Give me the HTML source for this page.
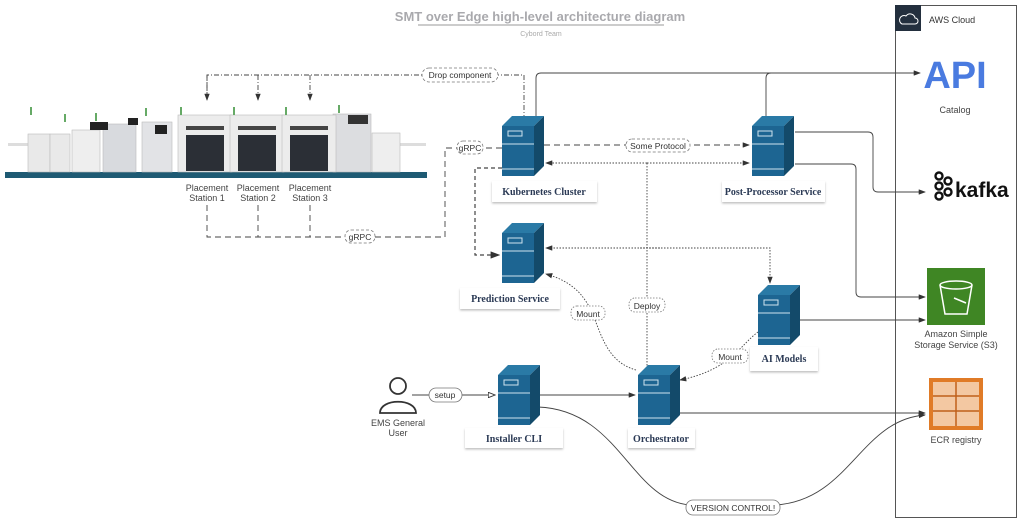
<!DOCTYPE html>
<html><head><meta charset="utf-8"><style>
html,body{margin:0;padding:0;background:#fff;width:1024px;height:524px;overflow:hidden}
svg{display:block}
text{font-family:"Liberation Sans",sans-serif}
.lbl{font-family:"Liberation Serif",serif;font-weight:bold;font-size:10px;fill:#2b3a55;text-anchor:middle}
.sm{font-size:9px;fill:#444;text-anchor:middle}
</style></head><body>
<svg width="1024" height="524" viewBox="0 0 1024 524" xmlns="http://www.w3.org/2000/svg">
<defs>
<marker id="a" markerWidth="8" markerHeight="6" refX="7" refY="3" orient="auto"><path d="M0,0 L8,3 L0,6z" fill="#333"/></marker>
<marker id="o" markerWidth="9" markerHeight="7" refX="8" refY="3.5" orient="auto"><path d="M0.5,0.5 L8,3.5 L0.5,6.5z" fill="#fff" stroke="#333"/></marker>
<g id="srv">
<path d="M0,10 L10,0 L42,0 L32,10z" fill="#2a7aa6"/>
<path d="M32,10 L42,0 L42,50 L32,60z" fill="#134a6a"/>
<rect x="0" y="10" width="32" height="50" fill="#1d6592"/>
<line x1="0" y1="28" x2="32" y2="28" stroke="#cfe3ef" stroke-width="1"/>
<line x1="0" y1="53" x2="32" y2="53" stroke="#cfe3ef" stroke-width="1"/>
<rect x="6" y="15" width="14" height="5" fill="none" stroke="#cfe3ef" stroke-width="1"/>
</g>
<filter id="sh"><feDropShadow dx="0" dy="1.5" stdDeviation="1" flood-opacity="0.25"/></filter>
</defs>

<text x="540" y="21" text-anchor="middle" font-size="13" font-weight="bold" fill="#a9a9ad">SMT over Edge high-level architecture diagram</text>
<line x1="418" y1="25" x2="664" y2="25" stroke="#999" stroke-width="1"/>
<text x="541" y="36" text-anchor="middle" font-size="7" fill="#aaa">Cybord Team</text>

<rect x="895.5" y="5.5" width="121" height="512" fill="none" stroke="#555" stroke-width="1"/>
<rect x="895" y="5" width="26" height="26" fill="#232f3e"/>
<path d="M902,24 h13 a3,3 0 0 0 0,-6 a5,5 0 0 0 -9,-2 a4,4 0 0 0 -4,8z" fill="none" stroke="#fff" stroke-width="1"/>
<text x="929" y="23" font-size="9" fill="#333">AWS Cloud</text>
<text x="955" y="88" text-anchor="middle" font-family="Liberation Mono" font-weight="bold" font-size="38" fill="#4a7be0">API</text>
<text x="955" y="113" class="sm" font-size="8">Catalog</text>
<g stroke="#111" stroke-width="2.4" fill="none">
<circle cx="939" cy="176" r="3.5"/><circle cx="939" cy="186" r="3.5"/><circle cx="939" cy="196" r="3.5"/>
<circle cx="948" cy="181" r="3.5"/><circle cx="948" cy="192" r="3.5"/>
</g>
<text x="955" y="197" font-size="21" font-weight="bold" fill="#111">kafka</text>
<rect x="927" y="268" width="58" height="57" fill="#3f8624"/>
<path d="M940,285 L945,314 H967 L972,285" fill="none" stroke="#fff" stroke-width="1.5"/>
<ellipse cx="956" cy="285" rx="16" ry="4" fill="none" stroke="#fff" stroke-width="1.5"/>
<path d="M954,298 L966,303" stroke="#fff" stroke-width="1.5"/>
<text x="956" y="337" class="sm" font-size="8.5">Amazon Simple</text>
<text x="956" y="348" class="sm" font-size="8.5">Storage Service (S3)</text>
<rect x="929" y="378" width="54" height="52" fill="#e07b27"/>
<rect x="933" y="382" width="46" height="44" fill="#f3c8a2"/>
<g stroke="#c0601a" stroke-width="1.5"><line x1="956" y1="382" x2="956" y2="426"/><line x1="933" y1="396" x2="979" y2="396"/><line x1="933" y1="411" x2="979" y2="411"/></g>
<text x="956" y="443" class="sm" font-size="8.5">ECR registry</text>

<rect x="5" y="172" width="422" height="6" fill="#1e5a73"/>
<rect x="8" y="143" width="20" height="3" fill="#ddd"/>
<rect x="400" y="143" width="26" height="3" fill="#ddd"/>
<g stroke="#bbb" stroke-width="0.6">
<rect x="28" y="134" width="22" height="38" fill="#e9e9e9"/>
<rect x="50" y="134" width="20" height="38" fill="#e9e9e9"/>
<rect x="72" y="130" width="28" height="42" fill="#eee"/>
<rect x="103" y="124" width="33" height="48" fill="#d8dade"/>
<rect x="142" y="122" width="30" height="50" fill="#e2e3e6"/>
<rect x="333" y="114" width="38" height="58" fill="#dcdde0"/>
<rect x="372" y="133" width="28" height="39" fill="#eee"/>
</g>
<rect x="90" y="122" width="18" height="8" fill="#222"/><rect x="128" y="118" width="10" height="7" fill="#222"/>
<rect x="155" y="125" width="12" height="9" fill="#222"/><rect x="348" y="115" width="20" height="9" fill="#333"/>
<g>
<rect x="178" y="115" width="54" height="57" fill="#ececec" stroke="#bbb" stroke-width="0.6"/><rect x="186" y="135" width="38" height="36" fill="#2b2f36"/>
<rect x="230" y="115" width="54" height="57" fill="#ececec" stroke="#bbb" stroke-width="0.6"/><rect x="238" y="135" width="38" height="36" fill="#2b2f36"/>
<rect x="282" y="115" width="54" height="57" fill="#ececec" stroke="#bbb" stroke-width="0.6"/><rect x="290" y="135" width="38" height="36" fill="#2b2f36"/>
<rect x="186" y="126" width="38" height="4" fill="#444"/><rect x="238" y="126" width="38" height="4" fill="#444"/><rect x="290" y="126" width="38" height="4" fill="#444"/>
</g>
<g fill="#6a6" ><rect x="30" y="107" width="2" height="8"/><rect x="64" y="114" width="2" height="8"/><rect x="95" y="113" width="2" height="8"/><rect x="145" y="108" width="2" height="8"/><rect x="180" y="107" width="2" height="8"/><rect x="233" y="107" width="2" height="8"/><rect x="285" y="107" width="2" height="8"/><rect x="338" y="105" width="2" height="8"/></g>
<g class="sm" font-size="8.5"><text x="207" y="191">Placement</text><text x="207" y="201">Station 1</text><text x="258" y="191">Placement</text><text x="258" y="201">Station 2</text><text x="310" y="191">Placement</text><text x="310" y="201">Station 3</text></g>

<g fill="none" stroke="#444" stroke-width="0.9">
<path d="M207,98 V75 H524 V117" stroke-dasharray="5,2,1,2"/>
<path d="M207,75 V100" stroke-dasharray="5,2,1,2" marker-end="url(#a)"/>
<path d="M258,75 V100" stroke-dasharray="5,2,1,2" marker-end="url(#a)"/>
<path d="M310,75 V100" stroke-dasharray="5,2,1,2" marker-end="url(#a)"/>
<path d="M207,205 V237 H445 V148 H502" stroke-dasharray="6,4"/>
<path d="M258,205 V237" stroke-dasharray="6,4"/><path d="M310,205 V237" stroke-dasharray="6,4"/>
<path d="M502,168 H475 V255 H499" stroke-dasharray="4,3" stroke-width="1.2" marker-end="url(#a)"/>
<path d="M536,117 V78 Q536,73 541,73 H920" marker-end="url(#a)"/>
<path d="M766,117 V78 Q766,73 771,73"/>
<path d="M544,145 H749" stroke-dasharray="6,4" marker-end="url(#a)"/>
<path d="M647,163 H749" stroke-dasharray="1.5,1.5" marker-end="url(#a)"/>
<path d="M647,163 H546" stroke-dasharray="1.5,1.5" marker-end="url(#a)"/>
<path d="M647,163 V366" stroke-dasharray="1.5,1.5"/>
<path d="M660,248 H546" stroke-dasharray="1.5,1.5" marker-end="url(#a)"/>
<path d="M640,248 H770 V283" stroke-dasharray="1.5,1.5" marker-end="url(#a)"/>
<path d="M636,370 C600,360 600,320 585,300 C575,285 560,278 546,274" stroke-dasharray="1.5,1.5" marker-end="url(#a)"/>
<path d="M758,332 C740,345 730,370 680,380" stroke-dasharray="1.5,1.5" marker-end="url(#a)"/>
<path d="M795,132 H868 Q873,132 873,137 V187 Q873,192 878,192 H925" marker-end="url(#a)"/>
<path d="M795,164 H851 Q856,164 856,169 V292 Q856,297 861,297 H925" marker-end="url(#a)"/>
<path d="M800,320 H925" marker-end="url(#a)"/>
<path d="M412,395 H495" marker-end="url(#o)"/>
<path d="M538,395 H635" marker-end="url(#a)"/>
<path d="M678,413 H925" marker-end="url(#a)"/>
<path d="M538,407 C620,410 630,500 690,505"/>
<path d="M776,505 C850,500 860,420 925,415" marker-end="url(#a)"/>
</g>
<g font-size="8.5" fill="#333" text-anchor="middle">
<rect x="422" y="68" width="76" height="14" rx="7" fill="#fff" stroke="#777" stroke-dasharray="3,2" stroke-width="0.8"/><text x="460" y="78">Drop component</text>
<rect x="457" y="141" width="26" height="13" rx="6" fill="#fff" stroke="#777" stroke-dasharray="3,2" stroke-width="0.8"/><text x="470" y="151">gRPC</text>
<rect x="345" y="230" width="30" height="13" rx="6" fill="#fff" stroke="#777" stroke-dasharray="3,2" stroke-width="0.8"/><text x="360" y="240">gRPC</text>
<rect x="626" y="139" width="64" height="13" rx="6" fill="#fff" stroke="#777" stroke-dasharray="3,2" stroke-width="0.8"/><text x="658" y="149">Some Protocol</text>
<rect x="629" y="298" width="36" height="14" rx="6" fill="#fff" stroke="#777" stroke-dasharray="1.5,1.5" stroke-width="0.8"/><text x="647" y="309">Deploy</text>
<rect x="571" y="306" width="34" height="14" rx="6" fill="#fff" stroke="#777" stroke-dasharray="1.5,1.5" stroke-width="0.8"/><text x="588" y="317">Mount</text>
<rect x="712" y="349" width="36" height="14" rx="6" fill="#fff" stroke="#777" stroke-dasharray="1.5,1.5" stroke-width="0.8"/><text x="730" y="360">Mount</text>
<rect x="429" y="388" width="33" height="14" rx="7" fill="#fff" stroke="#777" stroke-width="0.8"/><text x="445" y="398">setup</text>
<rect x="686" y="500" width="94" height="15" rx="7" fill="#fff" stroke="#777" stroke-width="0.8"/><text x="733" y="511">VERSION CONTROL!</text>
</g>

<g filter="url(#sh)" fill="#fff">
<rect x="492" y="181" width="105" height="21"/><rect x="722" y="181" width="103" height="21"/>
<rect x="460" y="288" width="100" height="21"/><rect x="750" y="347" width="68" height="24"/>
<rect x="465" y="428" width="98" height="20"/><rect x="628" y="428" width="67" height="20"/>
</g>
<text x="544" y="195" class="lbl">Kubernetes Cluster</text>
<text x="773" y="195" class="lbl">Post-Processor Service</text>
<text x="510" y="302" class="lbl">Prediction Service</text>
<text x="784" y="362" class="lbl">AI Models</text>
<text x="514" y="442" class="lbl">Installer CLI</text>
<text x="661" y="442" class="lbl">Orchestrator</text>
<use href="#srv" x="502" y="116"/>
<use href="#srv" x="752" y="116"/>
<use href="#srv" x="502" y="223"/>
<use href="#srv" x="758" y="285"/>
<use href="#srv" x="498" y="365"/>
<use href="#srv" x="638" y="365"/>

<circle cx="398" cy="386" r="8" fill="#fff" stroke="#333" stroke-width="1.8"/>
<path d="M380,413 C380,398 416,398 416,413 Z" fill="#fff" stroke="#333" stroke-width="1.8"/>
<text x="398" y="426" class="sm" font-size="8.5">EMS General</text>
<text x="398" y="436" class="sm" font-size="8.5">User</text>
</svg>
</body></html>
